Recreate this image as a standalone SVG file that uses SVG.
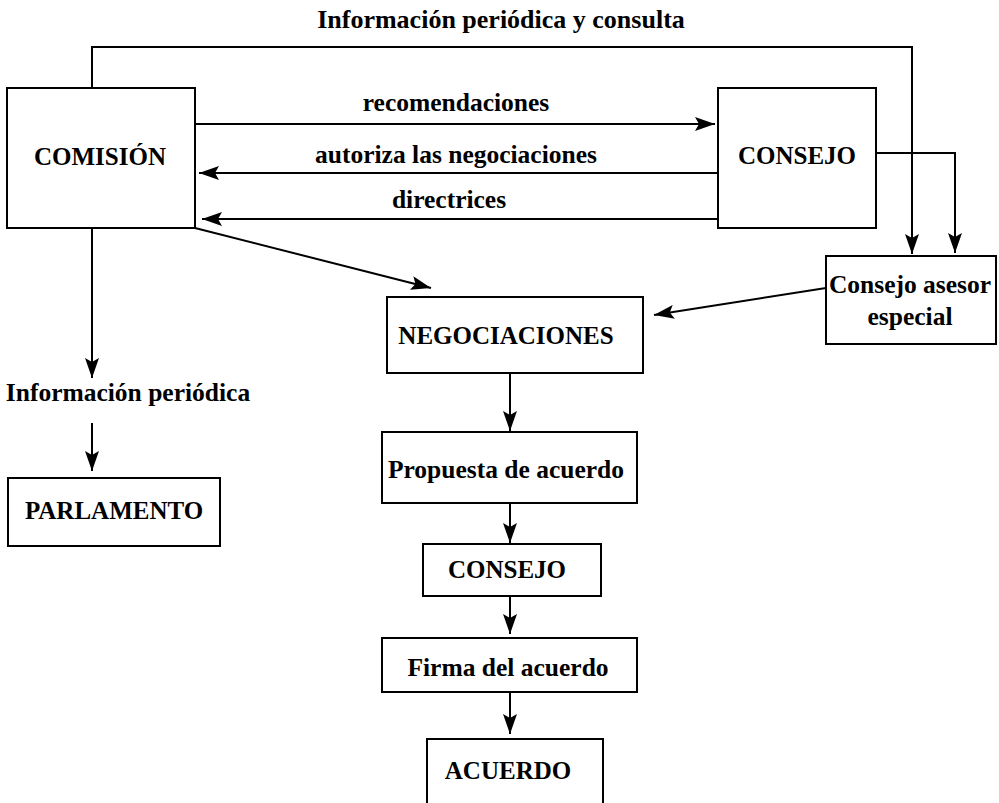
<svg xmlns="http://www.w3.org/2000/svg" width="999" height="803" viewBox="0 0 999 803">
<style>
.box{fill:#fff;stroke:#000;stroke-width:2}
.ln{fill:none;stroke:#000;stroke-width:2;marker-end:url(#ah)}
.ln2{fill:none;stroke:#000;stroke-width:2}
text{font-family:"Liberation Serif","Times New Roman",serif;font-weight:bold;fill:#000;text-anchor:middle}
.big{font-size:25px}
.lab{font-size:25.5px}
</style>
<defs>
<marker id="ah" markerUnits="userSpaceOnUse" markerWidth="22" markerHeight="14" refX="20" refY="7" orient="auto">
<path d="M0,0 L20,7 L0,14 L4,7 z" fill="#000"/>
</marker>
</defs>
<rect width="999" height="803" fill="#fff"/>
<g id="connectors">
<path class="ln" d="M92,88 V47 H912 V254"/>
<path class="ln" d="M195,124 H715"/>
<path class="ln" d="M718,173 H199"/>
<path class="ln" d="M718,219 H202"/>
<path class="ln" d="M876,153 H955 V253"/>
<path class="ln" d="M195,228 L431,288"/>
<path class="ln" d="M826,288 L654,315"/>
<path class="ln" d="M92,228 V378"/>
<path class="ln" d="M92,423 V471"/>
<path class="ln" d="M510,373 V431"/>
<path class="ln" d="M510,503 V543"/>
<path class="ln" d="M510,596 V634"/>
<path class="ln" d="M510,692 V734"/>
</g>
<g id="labels">
<text class="lab" x="501" y="28" style="font-size:26px">Información periódica y consulta</text>
<text class="lab" x="456" y="111">recomendaciones</text>
<text class="lab" x="456" y="163">autoriza las negociaciones</text>
<text class="lab" x="449" y="208">directrices</text>
<text class="lab" x="128" y="401">Información periódica</text>
</g>
<g id="comision"><rect class="box" x="7" y="88" width="188" height="140"/><text class="big" x="100" y="165">COMISIÓN</text></g>
<g id="consejo"><rect class="box" x="718" y="88" width="158" height="140"/><text class="big" x="797" y="164">CONSEJO</text></g>
<g id="asesor"><rect class="box" x="826" y="256" width="170" height="88"/><text class="lab" x="910" y="293">Consejo asesor</text><text class="lab" x="910" y="325">especial</text></g>
<g id="negociaciones"><rect class="box" x="387" y="297" width="256" height="76"/><text class="big" x="506" y="344">NEGOCIACIONES</text></g>
<g id="parlamento"><rect class="box" x="8" y="478" width="212" height="68"/><text class="big" x="114" y="519">PARLAMENTO</text></g>
<g id="propuesta"><rect class="box" x="382" y="432" width="255" height="71"/><text class="lab" x="506" y="478">Propuesta de acuerdo</text></g>
<g id="consejo2"><rect class="box" x="423" y="544" width="178" height="52"/><text class="big" x="507" y="578">CONSEJO</text></g>
<g id="firma"><rect class="box" x="382" y="638" width="255" height="54"/><text class="lab" x="508" y="676">Firma del acuerdo</text></g>
<g id="acuerdo"><path class="ln2" d="M427,804 V739 H603 V804" fill="#fff"/><text class="big" x="508" y="779">ACUERDO</text></g>
</svg>
